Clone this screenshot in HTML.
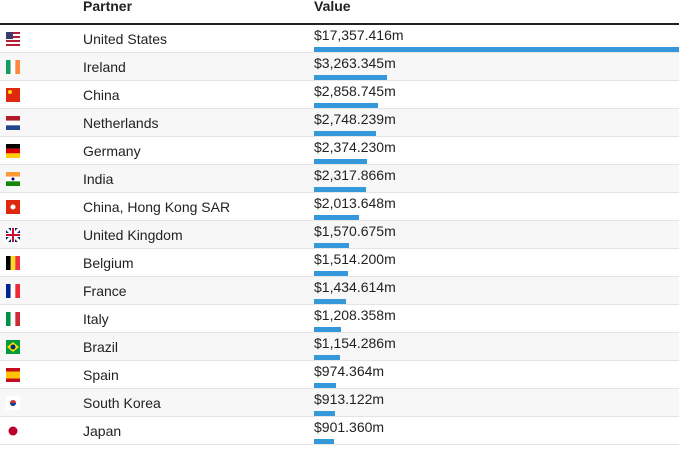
<!DOCTYPE html>
<html><head><meta charset="utf-8"><style>
body{margin:0;width:679px;height:453px;overflow:hidden;background:#fff;font-family:"Liberation Sans",Arial,sans-serif;color:#222;position:relative}
.hdr{position:absolute;top:-2px;font-weight:bold;font-size:14px}
.line{position:absolute;left:0;top:23px;width:679px;height:2px;background:#222}
.row{position:absolute;left:0;width:679px;height:27px;border-bottom:1px solid #e4e4e4}
.row.alt{background:#f7f7f7}
.flag{position:absolute;left:6px;top:7px;width:14px;height:14px}
.name{position:absolute;left:83px;top:6px;font-size:14px}
.val{position:absolute;left:314px;top:2px;font-size:14px}
.bar{position:absolute;left:314px;top:22px;height:5px;background:#3498db}
</style></head><body>
<div class="hdr" style="left:83px">Partner</div>
<div class="hdr" style="left:314px">Value</div>
<div class="line"></div>
<div id="tbl"></div>
<script>
const partners=["United States","Ireland","China","Netherlands","Germany","India","China, Hong Kong SAR","United Kingdom","Belgium","France","Italy","Brazil","Spain","South Korea","Japan"];
const values=[17357.416,3263.345,2858.745,2748.239,2374.230,2317.866,2013.648,1570.675,1514.200,1434.614,1208.358,1154.286,974.364,913.122,901.360];
const flagColors=[["#3c3b6e","#b22234","#fff"],["#169b62","#fff","#ff883e"],["#de2910","#de2910","#de2910"],["#ae1c28","#fff","#21468b"],["#000","#dd0000","#ffce00"],["#ff9933","#fff","#138808"],["#de2910","#de2910","#de2910"],["#012169","#c8102e","#fff"],["#000","#fdda24","#ef3340"],["#002395","#fff","#ed2939"],["#009246","#fff","#ce2b37"],["#009c3b","#ffdf00","#009c3b"],["#c60b1e","#ffc400","#c60b1e"],["#fff","#fff","#fff"],["#fff","#fff","#fff"]];
const flagVertical=[false,true,false,false,false,false,false,false,true,true,true,false,false,false,false];
const xScale=v=>v*0.0225;
const fmt=v=>"$"+v.toLocaleString("en-US",{minimumFractionDigits:3,maximumFractionDigits:3})+"m";
const tbl=document.getElementById('tbl');
partners.forEach((p,i)=>{
  const r=document.createElement('div');
  r.className='row'+(i%2?' alt':'');
  r.style.top=(25+28*i)+'px';
  
  
  const c=flagColors[i];
  let inner='';
  if(i===0){inner='<rect width="14" height="14" fill="#b22234"/><rect y="2" width="14" height="2" fill="#fff"/><rect y="6" width="14" height="2" fill="#fff"/><rect y="10" width="14" height="2" fill="#fff"/><rect width="7" height="7" fill="#3c3b6e"/>';}
  else if(i===13){inner='<rect width="14" height="14" fill="#fff"/><circle cx="7" cy="7" r="3" fill="#cd2e3a"/><path d="M4 7a3 3 0 0 0 6 0z" fill="#0047a0"/>';}
  else if(i===14){inner='<rect width="14" height="14" fill="#fff"/><circle cx="7" cy="7" r="4.5" fill="#bc002d"/>';}
  else if(i===11){inner='<rect width="14" height="14" fill="#009c3b"/><path d="M7 2L13 7 7 12 1 7z" fill="#ffdf00"/><circle cx="7" cy="7" r="2.5" fill="#002776"/>';}
  else if(i===7){inner='<rect width="14" height="14" fill="#012169"/><path d="M0 0L14 14M14 0L0 14" stroke="#fff" stroke-width="3"/><path d="M7 0V14M0 7H14" stroke="#fff" stroke-width="4"/><path d="M7 0V14M0 7H14" stroke="#c8102e" stroke-width="2"/>';}
  else if(i===2||i===6){inner='<rect width="14" height="14" fill="#de2910"/><circle cx="'+(i===2?4:7)+'" cy="'+(i===2?4:7)+'" r="2" fill="#ffde00"/>';if(i===6)inner='<rect width="14" height="14" fill="#de2910"/><circle cx="7" cy="7" r="2.5" fill="#fff"/>';}
  else if(i===12){inner='<rect width="14" height="14" fill="#c60b1e"/><rect y="3.5" width="14" height="7" fill="#ffc400"/>';}
  else if(flagVertical[i]){inner=c.map((col,k)=>'<rect x="'+(k*14/3)+'" width="4.7" height="14" fill="'+col+'"/>').join('');}
  else{inner=c.map((col,k)=>'<rect y="'+(k*14/3)+'" width="14" height="4.7" fill="'+col+'"/>').join('');if(i===5)inner+='<circle cx="7" cy="7" r="1.5" fill="#000080"/>';}
  r.innerHTML='<svg class="flag" viewBox="0 0 14 14">'+inner+'</svg><div class="name"></div><div class="val"></div><div class="bar"></div>';
  const f=r.querySelector('.flag');
  const n=r.querySelector('.name');n.textContent=p;
  
  
  const v=r.querySelector('.val');v.textContent=fmt(values[i]);
  
  
  const b=r.querySelector('.bar');b.style.width=xScale(values[i])+'px';
  
  
  tbl.appendChild(r);
});
</script>
</body></html>
